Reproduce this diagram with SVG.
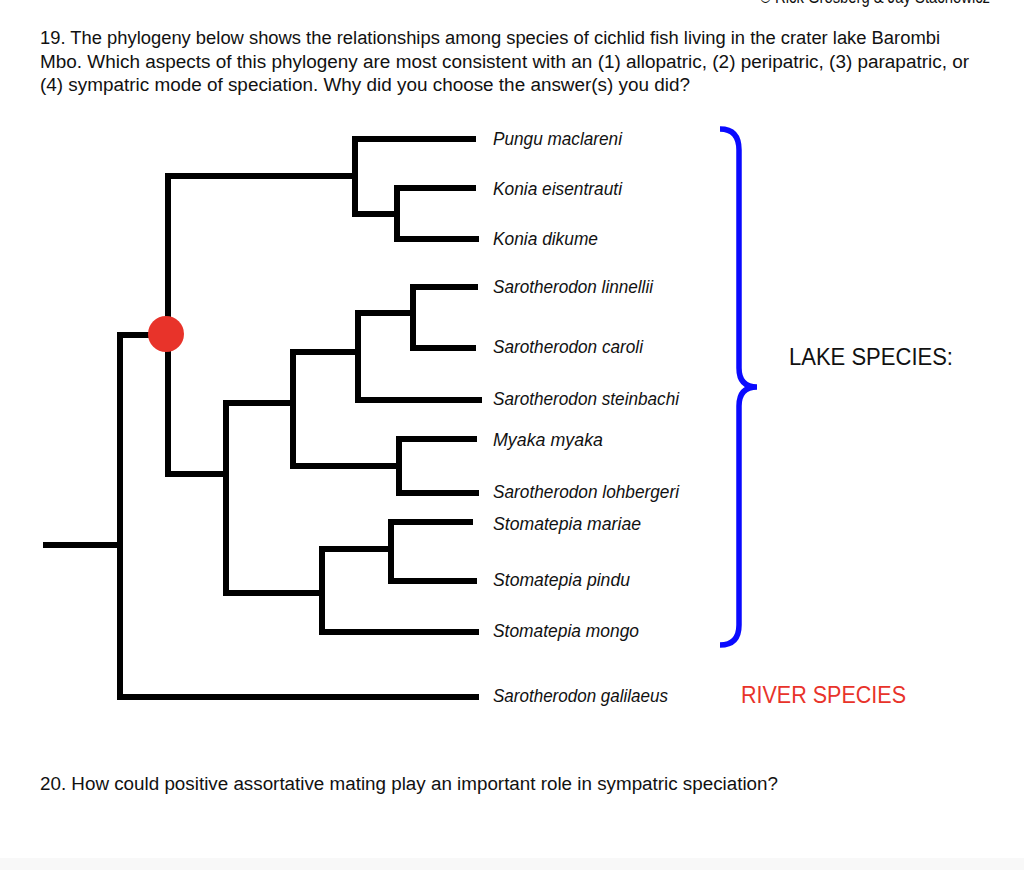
<svg xmlns="http://www.w3.org/2000/svg" width="1024" height="870" viewBox="0 0 1024 870">
<style>
.q{font-family:"Liberation Sans",Arial,sans-serif;font-size:18px;fill:#111}
.sp{font-family:"Liberation Sans",Arial,sans-serif;font-size:18px;font-style:italic;fill:#111}
.br{fill:none;stroke:#000;stroke-width:6;stroke-linejoin:miter;stroke-linecap:butt}
.cat{font-family:"Liberation Sans",Arial,sans-serif;font-size:23px}
</style>
<rect x="0" y="0" width="1024" height="870" fill="#fff"/>
<rect x="0" y="858" width="1024" height="12" fill="#f8f8f8"/>
<text class="q" x="760" y="3" textLength="230" lengthAdjust="spacingAndGlyphs">© Rick Grosberg &amp; Jay Stachowicz</text>
<text class="q" x="40" y="44" textLength="900" lengthAdjust="spacingAndGlyphs">19.  The phylogeny below shows the relationships among species of cichlid fish living in the crater lake Barombi</text>
<text class="q" x="40" y="68" textLength="929" lengthAdjust="spacingAndGlyphs">Mbo.  Which aspects of this phylogeny are most consistent with an (1) allopatric, (2) peripatric, (3) parapatric, or</text>
<text class="q" x="40" y="91" textLength="650" lengthAdjust="spacingAndGlyphs">(4) sympatric mode of speciation.  Why did you choose the answer(s) you did?</text>
<g id="connectors">
<path class="br" d="M43,545 H120"/>
<path class="br" d="M150,335 H120 V697 H479"/>
<path class="br" d="M355,176 H168 V474 H226"/>
<path class="br" d="M476,139 H355 V214 H397"/>
<path class="br" d="M476,188 H397 V239 H479"/>
<path class="br" d="M292,403 H226 V593 H322"/>
<path class="br" d="M358,352 H293 V466 H399"/>
<path class="br" d="M413,313 H358 V400 H482"/>
<path class="br" d="M478,287 H413 V348 H476"/>
<path class="br" d="M477,439 H399 V493 H479"/>
<path class="br" d="M391,549 H322 V632 H479"/>
<path class="br" d="M473,522 H391 V581 H477"/>
</g>
<g id="node-red"><circle cx="166" cy="334" r="18" fill="#e8332a"/></g>
<g id="leaf-pungu"><text class="sp" x="493" y="145" textLength="129" lengthAdjust="spacingAndGlyphs">Pungu maclareni</text></g>
<g id="leaf-konia-e"><text class="sp" x="493" y="195" textLength="129" lengthAdjust="spacingAndGlyphs">Konia eisentrauti</text></g>
<g id="leaf-konia-d"><text class="sp" x="493" y="245" textLength="105" lengthAdjust="spacingAndGlyphs">Konia dikume</text></g>
<g id="leaf-linnellii"><text class="sp" x="493" y="293" textLength="160" lengthAdjust="spacingAndGlyphs">Sarotherodon linnellii</text></g>
<g id="leaf-caroli"><text class="sp" x="493" y="353" textLength="150" lengthAdjust="spacingAndGlyphs">Sarotherodon caroli</text></g>
<g id="leaf-steinbachi"><text class="sp" x="493" y="405" textLength="186" lengthAdjust="spacingAndGlyphs">Sarotherodon steinbachi</text></g>
<g id="leaf-myaka"><text class="sp" x="493" y="446" textLength="110" lengthAdjust="spacingAndGlyphs">Myaka myaka</text></g>
<g id="leaf-lohbergeri"><text class="sp" x="493" y="498" textLength="186" lengthAdjust="spacingAndGlyphs">Sarotherodon lohbergeri</text></g>
<g id="leaf-mariae"><text class="sp" x="493" y="530" textLength="148" lengthAdjust="spacingAndGlyphs">Stomatepia mariae</text></g>
<g id="leaf-pindu"><text class="sp" x="493" y="586" textLength="137" lengthAdjust="spacingAndGlyphs">Stomatepia pindu</text></g>
<g id="leaf-mongo"><text class="sp" x="493" y="637" textLength="146" lengthAdjust="spacingAndGlyphs">Stomatepia mongo</text></g>
<g id="leaf-galilaeus"><text class="sp" x="493" y="702" textLength="175" lengthAdjust="spacingAndGlyphs">Sarotherodon galilaeus</text></g>
<g id="brace"><path d="M720,129 Q739,129 739,150 L739,368 Q739,387 757,387 Q739,387 739,406 L739,625 Q739,645 720,645" fill="none" stroke="#0a0aff" stroke-width="5.5" stroke-linecap="butt"/></g>
<g id="lake-label"><text class="cat" x="789" y="365" fill="#111" textLength="164" lengthAdjust="spacingAndGlyphs">LAKE SPECIES:</text></g>
<g id="river-label"><text class="cat" x="741" y="703" fill="#e8332a" textLength="165" lengthAdjust="spacingAndGlyphs">RIVER SPECIES</text></g>
<text class="q" x="40" y="790" textLength="738" lengthAdjust="spacingAndGlyphs">20.  How could positive assortative mating play an important role in sympatric speciation?</text>
</svg>
